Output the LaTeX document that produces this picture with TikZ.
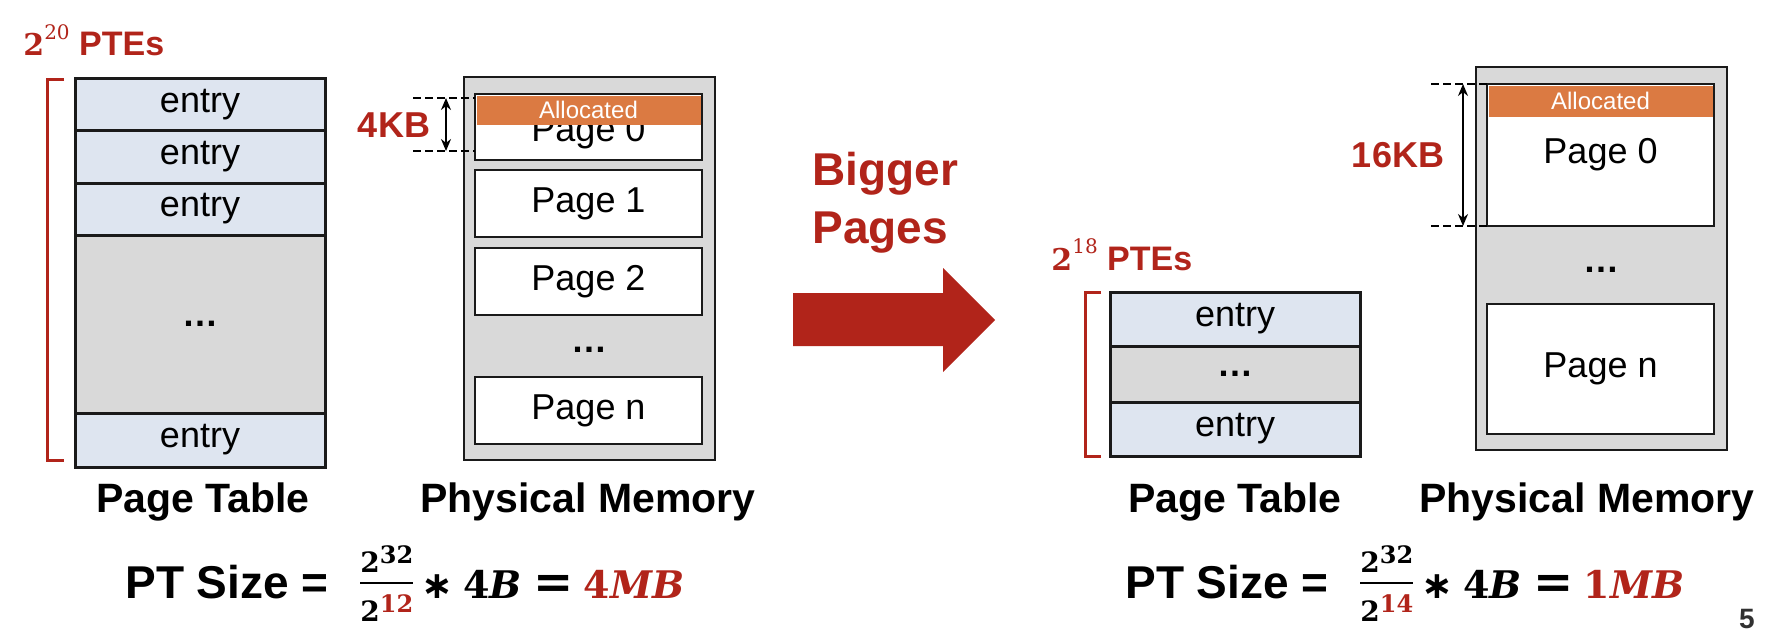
\documentclass[tikz,border=0pt]{standalone}
\usepackage{fontspec}
\setmainfont{Liberation Sans}
\newfontfamily\eqserif{DejaVu Serif}
\newfontfamily\eqsans{DejaVu Sans}
\usepackage{xcolor}
\definecolor{pgred}{HTML}{B1241A}
\definecolor{pgorange}{HTML}{DB7A42}
\definecolor{pgblue}{HTML}{DEE5F0}
\definecolor{pggray}{HTML}{D9D9D9}
\definecolor{pgdark}{HTML}{1A1A1A}
\usepackage{tikz}
\usetikzlibrary{arrows.meta,positioning,calc}

%% 2^x and the fraction of the size formula
\newcommand{\eqpow}[1]{\hbox{\fontsize{14}{14}\selectfont\eqserif\bfseries
  2\raisebox{4.5pt}{\fontsize{12}{12}\selectfont #1}}}
\newcommand{\eqfrac}[2]{\lower11.5pt\vbox{\halign{\hfil##\hfil\cr
  #1\cr\noalign{\kern5pt\hrule height1pt\kern5pt}#2\cr}}}
\newcommand{\ptsizeeq}[2]{%
  \eqfrac{\eqpow{32}}{\eqpow{\color{pgred}#1}}%
  \hspace{4pt}{\eqsans\bfseries ∗}\hspace{5pt}%
  4\textit{B}\hspace{6pt}{\fontsize{24}{24}\selectfont =}\hspace{5pt}%
  {\color{pgred}#2\textit{MB}}}

\tikzset{
  cell/.style={draw=pgdark,line width=1.5pt,fill=pgblue,minimum width=125pt,
               inner sep=0pt,outer sep=0pt,font=\fontsize{18}{20}\selectfont},
  gapcell/.style={cell,fill=pggray,font=\fontsize{18}{20}\selectfont\bfseries},
  memframe/.style={draw=pgdark,line width=1pt,fill=pggray,inner sep=0pt,
                   outer sep=0pt,minimum width=125.5pt},
  pagebox/.style={draw=pgdark,line width=1.3pt,fill=white,inner sep=0pt,
                  outer sep=0pt,minimum width=113.5pt,font=\fontsize{18}{20}\selectfont},
  allocband/.style={fill=pgorange,text=white,inner sep=0pt,minimum width=112pt,
                    font=\fontsize{12}{14}\selectfont},
  memdots/.style={font=\fontsize{18}{20}\selectfont\bfseries},
  caption/.style={font=\fontsize{20.5}{24}\selectfont\bfseries},
  redlbl/.style={text=pgred,font=\fontsize{18}{20}\selectfont\bfseries},
  ptelbl/.style={text=pgred,font=\fontsize{17}{20}\selectfont\bfseries,inner sep=0pt},
  dimline/.style={line width=0.8pt,dash pattern=on 4pt off 2pt},
  dimarrow/.style={{Stealth[length=6pt,width=5pt]}-{Stealth[length=6pt,width=5pt]},
                   line width=0.8pt},
  bracket/.style={draw=pgred,line width=1.5pt},
  sizetxt/.style={font=\fontsize{23}{27}\selectfont\bfseries,inner sep=0pt},
  sizemath/.style={font=\fontsize{19}{23}\selectfont\eqserif\bfseries,inner sep=0pt},
}

\begin{document}
\begin{tikzpicture}[x=0.5pt,y=-0.5pt]
  \useasboundingbox (0,0) rectangle (1766,642);

  %% Left: small pages
  \node[ptelbl,anchor=base west] (lptes) at (23,56)
    {{\fontsize{15}{15}\selectfont\eqserif 2\raisebox{0.55em}{\fontsize{10}{10}\selectfont\mdseries 20}} PTEs};
  \draw[bracket] (64,80) -- (47,80) -- (47,460) -- (64,460);

  \node[cell,anchor=north west,minimum height=26pt] (lent1) at (75,79) {entry};
  \node[cell,below=0pt of lent1,minimum height=26pt] (lent2) {entry};
  \node[cell,below=0pt of lent2,minimum height=26pt] (lent3) {entry};
  \node[gapcell,below=0pt of lent3,minimum height=89pt] (lgap) {…};
  \node[cell,below=0pt of lgap,minimum height=27pt] (lentn) {entry};

  \node[memframe,anchor=north west,minimum height=191.5pt] (lmem) at (464,77) {};
  \node[pagebox,anchor=north west,minimum height=33pt] (lpg0) at (475,94)
    {\raisebox{-7pt}[0pt][0pt]{Page 0}};
  \node[allocband,anchor=north,minimum height=14.5pt] (lalloc)
    at ($(lpg0.north)+(0,1.3)$) {Allocated};
  \node[pagebox,anchor=north west,minimum height=33.5pt] (lpg1) at (475,170) {Page 1};
  \node[pagebox,anchor=north west,minimum height=33.5pt] (lpg2) at (475,248) {Page 2};
  \node[memdots] (lmdots) at (589,350) {…};
  \node[pagebox,anchor=north west,minimum height=33.5pt] (lpgn) at (475,377) {Page n};

  \coordinate (ldimT) at (413,98);
  \coordinate (ldimB) at (413,151);
  \coordinate (larrT) at (446,98);
  \coordinate (larrB) at (446,151);
  \draw[dimline] (ldimT) -- (ldimT -| lpg0.west);
  \draw[dimline] (ldimB) -- (ldimB -| lpg0.west);
  \draw[dimarrow] (larrT) -- (larrB);
  \node[redlbl] (l4kb) at (394,125) {4KB};

  \node[caption,anchor=base] (lptcap) at (203,512) {Page Table};
  \node[caption,anchor=base] (lpmcap) at (588,512) {Physical Memory};

  \node[sizetxt,anchor=base west] (lsize) at (125,598) {PT Size =};
  \node[sizemath,anchor=base west] (lsizeeq) at (360,598) {\ptsizeeq{12}{4}};

  %% Middle arrow
  \fill[pgred] (793,293) -- (943,293) -- (943,268) -- (995,320)
               -- (943,372) -- (943,346) -- (793,346) -- cycle;
  \node[anchor=north west,align=left,inner sep=0pt,text=pgred,
        font=\fontsize{23}{29}\selectfont\bfseries] (bigger) at (812,152)
    {Bigger\\Pages};

  %% Right: big pages
  \node[ptelbl,anchor=base west] (rptes) at (1051,270)
    {{\fontsize{15}{15}\selectfont\eqserif 2\raisebox{0.55em}{\fontsize{10}{10}\selectfont\mdseries 18}} PTEs};
  \draw[bracket] (1101,292) -- (1085,292) -- (1085,456) -- (1101,456);

  \node[cell,anchor=north west,minimum height=27pt] (rent1) at (1110,292) {entry};
  \node[gapcell,below=0pt of rent1,minimum height=28pt] (rgap) {…};
  \node[cell,below=0pt of rgap,minimum height=27pt] (rentn) {entry};

  \node[memframe,anchor=north west,minimum height=191.5pt] (rmem) at (1476,67) {};
  \node[pagebox,anchor=north west,minimum height=71pt] (rpg0) at (1487,84) {Page 0};
  \node[allocband,anchor=north,minimum height=15.5pt] (ralloc)
    at ($(rpg0.north)+(0,1.3)$) {Allocated};
  \node[memdots] (rmdots) at (1601,270) {…};
  \node[pagebox,anchor=north west,minimum height=65pt] (rpgn) at (1487,304) {Page n};

  \coordinate (rdimT) at (1431,84);
  \coordinate (rdimB) at (1431,226);
  \coordinate (rarrT) at (1463,84);
  \coordinate (rarrB) at (1463,226);
  \draw[dimline] (rdimT) -- (rdimT -| rpg0.west);
  \draw[dimline] (rdimB) -- (rdimB -| rpg0.west);
  \draw[dimarrow] (rarrT) -- (rarrB);
  \node[redlbl] (r16kb) at (1398,155) {16KB};

  \node[caption,anchor=base] (rptcap) at (1235,512) {Page Table};
  \node[caption,anchor=base] (rpmcap) at (1587,512) {Physical Memory};

  \node[sizetxt,anchor=base west] (rsize) at (1125,598) {PT Size =};
  \node[sizemath,anchor=base west] (rsizeeq) at (1360,598) {\ptsizeeq{14}{1}};

  \node[anchor=base east,inner sep=0pt,text=pgdark!90,
        font=\fontsize{14}{16}\selectfont\bfseries] (pgnum) at (1755,628) {5};
\end{tikzpicture}
\end{document}
